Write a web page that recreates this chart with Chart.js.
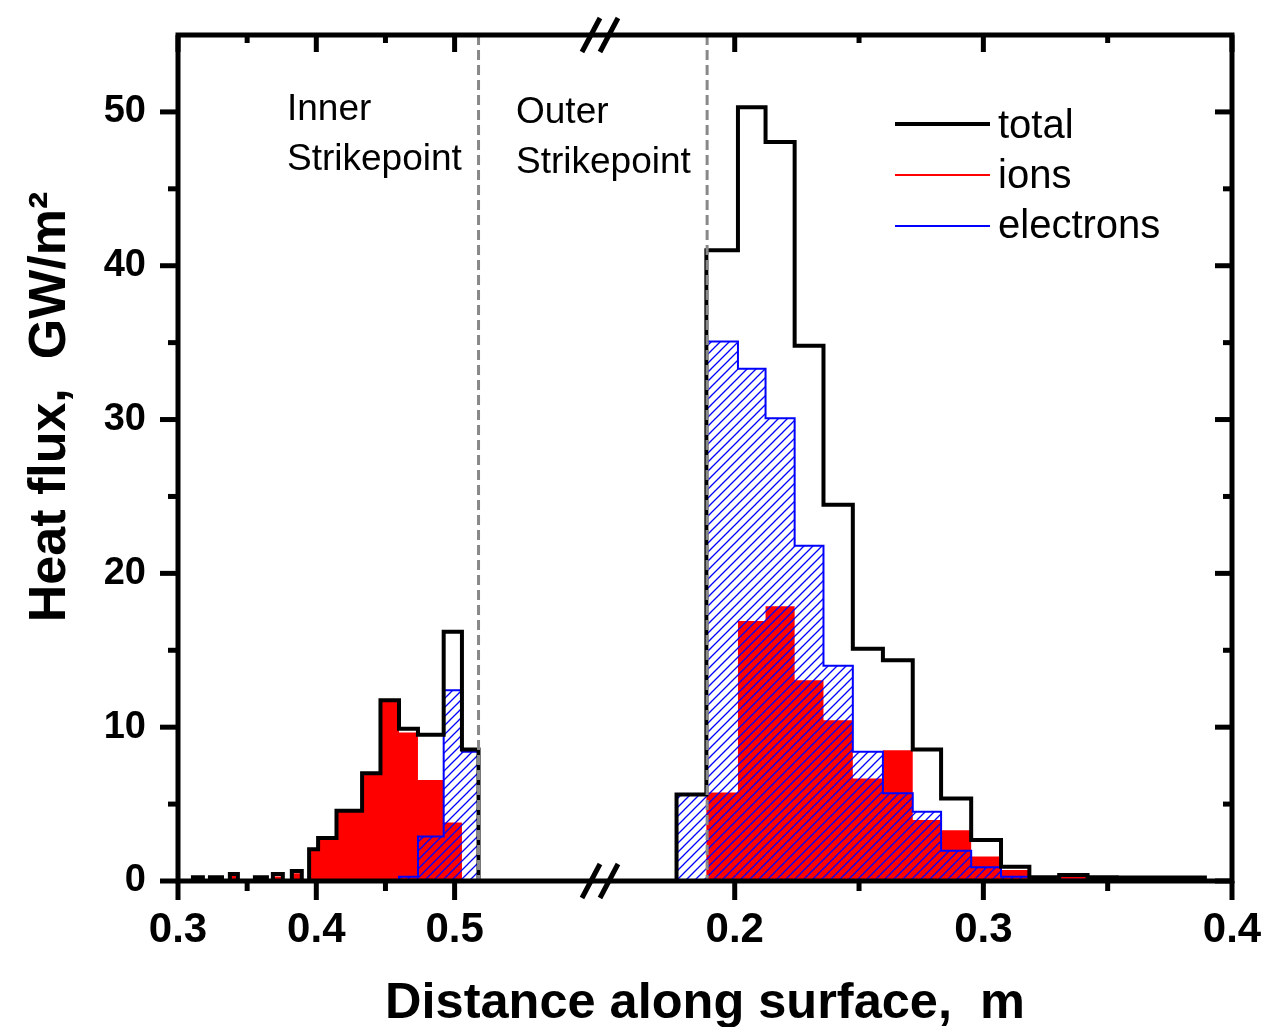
<!DOCTYPE html>
<html>
<head>
<meta charset="utf-8">
<script src="https://cdn.jsdelivr.net/npm/chart.js@4/dist/chart.umd.min.js"></script>
<style>
  html, body { margin: 0; padding: 0; background: #fff; }
</style>
</head>
<body>
<canvas id="flux" width="1266" height="1027"></canvas>
<script>
/* heat flux on the divertor, inner + outer strikepoint, broken x axis */

// inner strikepoint bins (m along surface) and fluxes (GW/m2)
const innerEdges = [0.3108, 0.3180, 0.3231, 0.3318, 0.3375, 0.3433, 0.3556, 0.3643, 0.3686, 0.3758, 0.3823, 0.3895,
                    0.3948, 0.4013, 0.4146, 0.4331, 0.4464, 0.4598, 0.4735, 0.4921, 0.5053, 0.5173];
const innerTotal = [0.24, 0, 0.24, 0, 0.45, 0, 0.24, 0, 0.45, 0, 0.65, 0,
                    2.06, 2.8, 4.56, 7.0, 11.75, 9.9, 9.5, 16.2, 8.55];
const innerIons  = [0.1, 0, 0.1, 0, 0.35, 0, 0.1, 0, 0.3, 0, 0.5, 0,
                    2.06, 2.8, 4.56, 7.0, 11.75, 9.65, 6.56, 3.8, 0];
const innerElec  = [0, 0, 0, 0, 0, 0, 0, 0, 0, 0, 0, 0,
                    0, 0, 0, 0, 0, 0.28, 2.9, 12.4, 8.4];

// outer strikepoint bins
const outerEdges = [0.1766, 0.1886, 0.2013, 0.2124, 0.2241, 0.2357, 0.2475, 0.2596, 0.2716, 0.2830,
                    0.2951, 0.3071, 0.3185, 0.3305, 0.3419, 0.3537, 0.3655, 0.3773, 0.3891];
const outerTotal = [5.63, 41.0, 50.3, 48.05, 34.8, 24.46, 15.1, 14.35, 8.55, 5.37, 2.66, 0.93, 0.24, 0.39, 0.24, 0.22, 0.22, 0.22];
const outerIons  = [0, 5.76, 16.9, 17.86, 13.05, 10.45, 6.67, 8.5, 3.96, 3.3, 1.6, 0.71, 0.15, 0.32, 0.1, 0.05, 0.05, 0.05];
const outerElec  = [5.63, 35.08, 33.3, 30.08, 21.8, 14.0, 8.4, 5.7, 4.5, 1.97, 0.89, 0.28, 0.1, 0.08, 0.1, 0.1, 0.1, 0.1];

// axis ticks
const innerMajor = [0.3, 0.4, 0.5], innerMinor = [0.35, 0.45];
const outerMajor = [0.2, 0.3, 0.4], outerMinor = [0.25, 0.35];
const yMajor = [0, 10, 20, 30, 40, 50], yMinor = [5, 15, 25, 35, 45];
const separators = { inner: 0.5173, outer: 0.1889 };

// broken axis: both segments live on one linear scale
const IN_MAX = 0.6015, OUT_MIN = 0.1438, OUT_STRETCH = 1.7978;
const uIn  = v => v;
const uOut = v => IN_MAX + (v - OUT_MIN) * OUT_STRETCH;

const FONT = "'Liberation Sans', Arial, sans-serif";

function steps(edges, vals, map) {
  const pts = [{ x: map(edges[0]), y: 0 }];
  vals.forEach((v, i) => pts.push({ x: map(edges[i]), y: v }, { x: map(edges[i + 1]), y: v }));
  pts.push({ x: map(edges[edges.length - 1]), y: 0 });
  return pts;
}

function hatch() {
  const c = document.createElement('canvas');
  c.width = c.height = 9;
  const g = c.getContext('2d');
  g.strokeStyle = '#0000ff'; g.lineWidth = 1.3;
  g.beginPath();
  g.moveTo(0, 9); g.lineTo(9, 0);
  g.moveTo(-1, 1); g.lineTo(1, -1);
  g.moveTo(8, 10); g.lineTo(10, 8);
  g.stroke();
  return g.createPattern(c, 'repeat');
}
const hatchFill = hatch();

const base = { pointRadius: 0, tension: 0, borderJoinStyle: 'miter', borderCapStyle: 'butt' };
const totalDs = d => ({ ...base, label: 'total', data: d, borderColor: '#000', borderWidth: 4, fill: false, order: 0 });
const elecDs  = d => ({ ...base, label: 'electrons', data: d, borderColor: '#0000ff', borderWidth: 2, fill: 'origin', backgroundColor: hatchFill, order: 1 });
const ionsDs  = d => ({ ...base, label: 'ions', data: d, borderColor: 'rgba(0,0,0,0)', borderWidth: 1, fill: 'origin', backgroundColor: '#ff0000', order: 2 });

const xTicks = [...innerMajor.map(uIn), ...outerMajor.map(uOut)];
const xLabels = [...innerMajor, ...outerMajor].map(v => v.toFixed(1));

// keep the plot frame where it is: no extra room for edge labels
const noPad = s => { s.paddingTop = s.paddingBottom = s.paddingLeft = s.paddingRight = 0; };

const decor = {
  id: 'decor',
  afterDatasetsDraw(chart) {
    const { ctx, chartArea: a, scales: { x } } = chart;
    ctx.save();
    ctx.strokeStyle = '#888'; ctx.lineWidth = 3; ctx.setLineDash([10, 5]);
    [uIn(separators.inner), uOut(separators.outer)].forEach(u => {
      const px = x.getPixelForValue(u);
      ctx.beginPath(); ctx.moveTo(px, a.top); ctx.lineTo(px, a.bottom); ctx.stroke();
    });
    ctx.restore();
  },
  afterDraw(chart) {
    const { ctx, chartArea: a, scales: { x, y } } = chart;
    ctx.save();
    ctx.strokeStyle = '#000'; ctx.fillStyle = '#000';
    ctx.lineWidth = 5;
    ctx.strokeRect(a.left, a.top, a.right - a.left, a.bottom - a.top);

    // ticks: out on bottom/left, in on top/right
    const tick = (x1, y1, x2, y2) => { ctx.beginPath(); ctx.moveTo(x1, y1); ctx.lineTo(x2, y2); ctx.stroke(); };
    const xt = [...innerMajor.map(v => [uIn(v), 19]), ...innerMinor.map(v => [uIn(v), 10]),
                ...outerMajor.map(v => [uOut(v), 19]), ...outerMinor.map(v => [uOut(v), 10])];
    xt.forEach(([u, len]) => {
      const px = x.getPixelForValue(u);
      tick(px, a.bottom, px, a.bottom + len);
      tick(px, a.top, px, a.top + len - 2);
    });
    [...yMajor.map(v => [v, 18]), ...yMinor.map(v => [v, 10])].forEach(([v, len]) => {
      const py = y.getPixelForValue(v);
      tick(a.left, py, a.left - len, py);
      tick(a.right, py, a.right - len + 1, py);
    });

    // axis break marks
    const bx = x.getPixelForValue(IN_MAX);
    [a.bottom, a.top].forEach(yy => {
      [-4, 14].forEach(off => tick(bx + off - 9, yy + 17, bx + off + 9, yy - 17));
    });

    // axis titles
    ctx.font = `bold 50.5px ${FONT}`;
    ctx.textAlign = 'center'; ctx.textBaseline = 'alphabetic';
    ctx.fillText('Distance along surface,  m', (a.left + a.right) / 2, 1018);
    ctx.save();
    ctx.font = `bold 52px ${FONT}`;
    ctx.translate(65, 407); ctx.rotate(-Math.PI / 2);
    ctx.fillText('Heat flux,  GW/m\u00B2', 0, 0);
    ctx.restore();

    // legend
    ctx.textAlign = 'left';
    ctx.font = `40px ${FONT}`;
    [['total', '#000', 4], ['ions', '#ff0000', 2], ['electrons', '#0000ff', 2]].forEach(([t, c, w], i) => {
      ctx.strokeStyle = c; ctx.lineWidth = w;
      tick(895, 124 + 51 * i, 990, 124 + 51 * i);
      ctx.fillStyle = '#000';
      ctx.fillText(t, 998, 138 + 50 * i);
    });

    // strikepoint notes
    ctx.font = `37px ${FONT}`;
    ctx.fillText('Inner', a.left + 109, 120);
    ctx.fillText('Strikepoint', a.left + 109, 170);
    ctx.fillText('Outer', a.left + 338, 123);
    ctx.fillText('Strikepoint', a.left + 338, 173);
    ctx.restore();
  }
};

new Chart(document.getElementById('flux'), {
  type: 'line',
  data: {
    datasets: [
      totalDs(steps(innerEdges, innerTotal, uIn)),
      totalDs(steps(outerEdges, outerTotal, uOut)),
      elecDs(steps(innerEdges, innerElec, uIn)),
      elecDs(steps(outerEdges, outerElec, uOut)),
      ionsDs(steps(innerEdges, innerIons, uIn)),
      ionsDs(steps(outerEdges, outerIons, uOut))
    ]
  },
  options: {
    responsive: false, animation: false,
    layout: { autoPadding: false, padding: { top: 35, right: 34, left: 0, bottom: 0 } },
    plugins: { legend: { display: false }, tooltip: { enabled: false } },
    scales: {
      x: {
        type: 'linear', min: 0.3, max: uOut(0.4),
        grid: { display: false, drawTicks: false }, border: { display: false },
        afterBuildTicks: s => { s.ticks = xTicks.map(v => ({ value: v })); },
        afterFit: s => { s.height = 146; noPad(s); },
        ticks: { autoSkip: false, maxRotation: 0, padding: 24, color: '#000',
                 font: { family: FONT, size: 42, weight: 'bold' },
                 callback: (v, i) => xLabels[i] }
      },
      y: {
        min: 0, max: 55,
        grid: { display: false, drawTicks: false }, border: { display: false },
        afterBuildTicks: s => { s.ticks = yMajor.map(v => ({ value: v })); },
        afterFit: s => { s.width = 178; noPad(s); },
        ticks: { padding: 32, color: '#000', font: { family: FONT, size: 38, weight: 'bold' } }
      }
    }
  },
  plugins: [decor]
});
</script>
</body>
</html>
